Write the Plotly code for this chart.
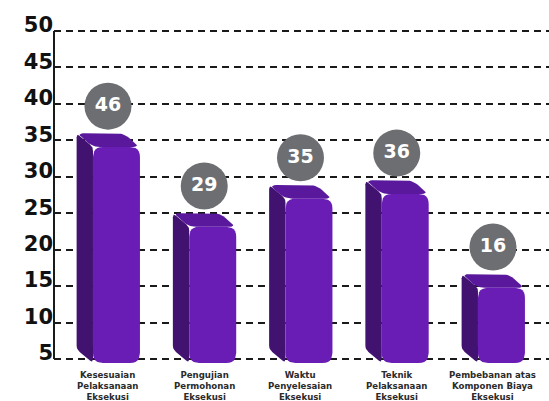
import plotly.graph_objects as go

# ---- data ----
categories = [
    "Kesesuaian<br>Pelaksanaan<br>Eksekusi",
    "Pengujian<br>Permohonan<br>Eksekusi",
    "Waktu<br>Penyelesaian<br>Eksekusi",
    "Teknik<br>Pelaksanaan<br>Eksekusi",
    "Pembebanan atas<br>Komponen Biaya<br>Eksekusi",
]
values = [46, 29, 35, 36, 16]
axis_ticks = [5, 10, 15, 20, 25, 30, 35, 40, 45, 50]

# ---- styling ----
FRONT = "#6a1db4"
SIDE = "#41126f"
TOP = "#5a199d"
BADGE = "#6d6e71"
INK = "#1a1a1a"
FONT = "DejaVu Sans"

W, H = 549, 401
M = dict(l=54, r=0, t=20, b=31)
X_RANGE = [-0.649, 4.494]
Y_RANGE = [3.491, 51.51]
V_RANGE = [-1.491, 73.04]          # value axis used by the bars

# pixels per unit on each axis, so corner radii can be given in pixels
SX = (W - M["l"] - M["r"]) / (X_RANGE[1] - X_RANGE[0])
SY = (H - M["t"] - M["b"]) / (V_RANGE[1] - V_RANGE[0])

half = 0.244            # half width of the front face (x units)
dx, dy = -0.17, 2.9     # extrusion depth (x units, value units)
badge_dx, badge_dy = -0.088, 8.7


def rounded(points, radius_px, steps=6):
    """Round every corner of a closed polygon given in data units."""
    pts = [(x * SX, y * SY) for x, y in points]
    n = len(pts)
    out = []
    for j in range(n):
        ax, ay = pts[j - 1]
        px, py = pts[j]
        bx, by = pts[(j + 1) % n]
        la = ((ax - px) ** 2 + (ay - py) ** 2) ** 0.5
        lb = ((bx - px) ** 2 + (by - py) ** 2) ** 0.5
        r = min(radius_px, la / 2, lb / 2)
        p0 = (px + (ax - px) / la * r, py + (ay - py) / la * r)
        p2 = (px + (bx - px) / lb * r, py + (by - py) / lb * r)
        for s in range(steps + 1):
            t = s / steps
            qx = (1 - t) ** 2 * p0[0] + 2 * (1 - t) * t * px + t ** 2 * p2[0]
            qy = (1 - t) ** 2 * p0[1] + 2 * (1 - t) * t * py + t ** 2 * p2[1]
            out.append((qx, qy))
    out.append(out[0])
    return [p[0] / SX for p in out], [p[1] / SY for p in out]


def face(xs_ys, color):
    xs, ys = xs_ys
    return go.Scatter(x=xs, y=ys, fill="toself", fillcolor=color,
                      mode="lines", line=dict(width=0), yaxis="y2",
                      hoverinfo="skip", showlegend=False)


pos = list(range(len(values)))
fig = go.Figure()

for i, v in zip(pos, values):
    xl, xr = i - half, i + half
    # side face
    fig.add_trace(face(rounded(
        [(xl, 0), (xl + dx, dy), (xl + dx, v + dy), (xl, v)], 4), SIDE))
    # top face
    fig.add_trace(face(rounded(
        [(xl, v), (xl + dx, v + dy), (xr + dx, v + dy), (xr, v)], 7), TOP))
    # front face
    fig.add_trace(face(rounded(
        [(xl, 0), (xl, v), (xr, v), (xr, 0)], 10), FRONT))

# value badges
fig.add_trace(go.Scatter(
    x=[i + badge_dx for i in pos], y=[v + badge_dy for v in values],
    mode="markers+text", text=[str(v) for v in values],
    textposition="middle center",
    textfont=dict(family=FONT, size=19, color="white", weight="bold"),
    marker=dict(size=47, color=BADGE, line=dict(width=0)),
    yaxis="y2", showlegend=False, hoverinfo="skip"))

# category labels
annotations = [
    dict(x=i + badge_dx, xref="x", y=0, yref="paper", yanchor="top",
         xanchor="center", yshift=2, showarrow=False, text=c, align="center",
         font=dict(family=FONT, size=8.6, color="#2b2b2b", weight="bold"))
    for i, c in zip(pos, categories)
]

fig.update_layout(
    width=W, height=H,
    margin=M,
    paper_bgcolor="white", plot_bgcolor="white",
    xaxis=dict(range=X_RANGE, showgrid=False, zeroline=False,
               showticklabels=False, showline=False, ticks=""),
    yaxis=dict(range=Y_RANGE, tickvals=axis_ticks,
               ticktext=[str(t) for t in axis_ticks],
               showgrid=True, gridcolor=INK, gridwidth=2, griddash="7px,5px",
               zeroline=False, showline=False, ticks="",
               ticklabelshift=-6,
               tickfont=dict(family=FONT, size=21, color="#111111",
                             weight="bold")),
    yaxis2=dict(overlaying="y", range=V_RANGE, visible=False),
    annotations=annotations,
    shapes=[dict(type="line", xref="paper", x0=0, x1=0, yref="y", y0=5, y1=50,
                 line=dict(color=INK, width=2))],
)

fig.write_html("out.html")
